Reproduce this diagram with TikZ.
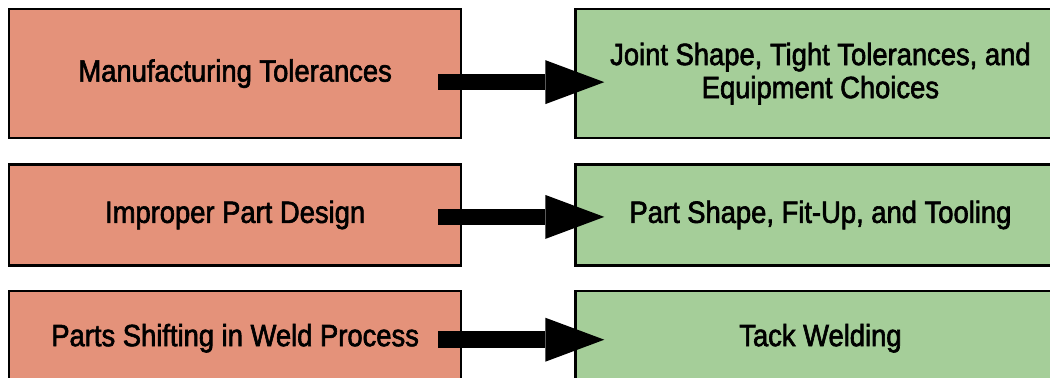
\documentclass[tikz,border=0pt]{standalone}
\usepackage{fontspec}
\setmainfont{Liberation Sans}[FakeStretch=0.89,FakeBold=2]
\usepackage{tikz}
\usetikzlibrary{arrows.meta,positioning}
\definecolor{causefill}{RGB}{228,146,122}
\definecolor{fixfill}{RGB}{165,206,153}
\tikzset{
cause/.style = {draw, line width=1.3pt, fill=causefill, rectangle, align=center, minimum width=9.04cm, font=\fontsize{17.5}{18.8}\selectfont},
fix/.style = {draw, line width=1.3pt, fill=fixfill, rectangle, align=center, minimum width=9.8cm, font=\fontsize{17.5}{18.8}\selectfont},
bigarrow/.style = {-{Triangle[length=1.18cm,width=0.88cm,line width=0pt]}, line width=0.33cm, shorten <=-0.48cm, shorten >=-0.6cm},
}

\begin{document}
\begin{tikzpicture}
        \useasboundingbox (0,0) rectangle (21,7.56);
        \clip (0,0) rectangle (21,7.56);
        % causes on the left
        \node [cause, minimum height=2.58cm, anchor=north west] (mt) at (0.16,7.4) {Manufacturing Tolerances};
        \node [cause, minimum height=2.02cm, below=0.48cm of mt] (ipd) {Improper Part Design};
        \node [cause, minimum height=1.9cm, below=0.46cm of ipd] (psw) {Parts Shifting in Weld Process};
        % remedies on the right
        \node [fix, minimum height=2.58cm, right=2.24cm of mt] (jst) {Joint Shape, Tight Tolerances, and\\Equipment Choices};
        \node [fix, minimum height=2.02cm, right=2.24cm of ipd] (psf) {Part Shape, Fit-Up, and Tooling};
        \node [fix, minimum height=1.9cm, right=2.24cm of psw] (tw) {Tack Welding};

        \draw [bigarrow] ([yshift=-0.17cm]mt.east) -- ([yshift=-0.17cm]jst.west);
        \draw [bigarrow] ([yshift=-0.04cm]ipd.east) -- ([yshift=-0.04cm]psf.west);
        \draw [bigarrow] ([yshift=-0.03cm]psw.east) -- ([yshift=-0.03cm]tw.west);
\end{tikzpicture}
\end{document}
